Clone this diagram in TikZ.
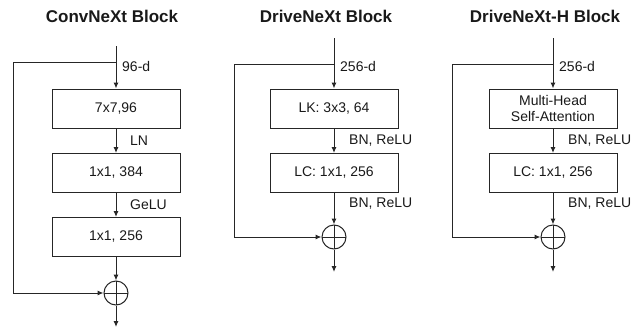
\documentclass[tikz,border=0pt]{standalone}
\usepackage{fontspec}
\setmainfont{Liberation Sans}
\usetikzlibrary{arrows.meta,positioning,calc}

\tikzset{
  blk/.style={draw=black!85, line width=1pt, minimum width=128pt, minimum height=39pt, inner sep=0pt, align=center, font=\fontsize{14}{16}\selectfont, text=black!90},
  lbl/.style={anchor=west, inner sep=0pt, font=\fontsize{14}{16}\selectfont, text=black!90},
  ttl/.style={font=\fontsize{17}{20}\selectfont\bfseries, text=black!90},
  sum/.style={circle, draw=black!85, line width=1pt, minimum size=24pt, inner sep=0pt,
    path picture={\draw[line width=1pt] (path picture bounding box.north) -- (path picture bounding box.south)
      (path picture bounding box.west) -- (path picture bounding box.east);}},
  wire/.style={draw=black!85, line width=1pt}
}

\begin{document}
\begin{tikzpicture}[x=1pt, y=-1pt, >={Latex[length=6pt,width=5pt]}]
\useasboundingbox (0,0) rectangle (642,332);

% ConvNeXt
\node[ttl, name=convt] at (112,16) {ConvNeXt Block};
\coordinate (convin) at (116,46);
\coordinate (convsplit) at (116,62);
\coordinate (convskip) at (13,293);
\coordinate (convout) at (116,327);
\node[blk, name=conv1] at (116,108.5) {7x7,96};
\node[blk, name=conv2] at (116,173) {1x1, 384};
\node[blk, name=conv3] at (116,237) {1x1, 256};
\node[sum, name=convsum] at (116,293) {};

\draw[wire,->] (convin) -- (conv1);
\draw[wire,->] (conv1) -- (conv2);
\draw[wire,->] (conv2) -- (conv3);
\draw[wire,->] (conv3) -- (convsum);
\draw[wire,->] (convsplit) -| (convskip) -- (convsum);
\draw[wire,->] (convsum) -- (convout);

\node[lbl] at (122,66) {96-d};
\node[lbl] at (130,141) {LN};
\node[lbl] at (130,205) {GeLU};

% DriveNeXt
\node[ttl, name=dnt] at (326,16) {DriveNeXt Block};
\coordinate (dnin) at (334,38);
\coordinate (dnsplit) at (334,64);
\coordinate (dnskip) at (234,237);
\coordinate (dnout) at (334,272);
\node[blk, name=dn1] at (334,108.5) {LK: 3x3, 64};
\node[blk, name=dn2] at (334,173) {LC: 1x1, 256};
\node[sum, name=dnsum] at (334,237) {};

\draw[wire,->] (dnin) -- (dn1);
\draw[wire,->] (dn1) -- (dn2);
\draw[wire,->] (dn2) -- (dnsum);
\draw[wire,->] (dnsplit) -| (dnskip) -- (dnsum);
\draw[wire,->] (dnsum) -- (dnout);

\node[lbl] at (340,66) {256-d};
\node[lbl] at (349,141) {BN, ReLU};
\node[lbl] at (349,204) {BN, ReLU};

% DriveNeXt-H
\node[ttl, name=dht] at (545,16) {DriveNeXt-H Block};
\coordinate (dhin) at (553,38);
\coordinate (dhsplit) at (553,64);
\coordinate (dhskip) at (452,237);
\coordinate (dhout) at (553,272);
\node[blk, name=dh1] at (553,108.5) {Multi-Head\\Self-Attention};
\node[blk, name=dh2] at (553,173) {LC: 1x1, 256};
\node[sum, name=dhsum] at (553,237) {};

\draw[wire,->] (dhin) -- (dh1);
\draw[wire,->] (dh1) -- (dh2);
\draw[wire,->] (dh2) -- (dhsum);
\draw[wire,->] (dhsplit) -| (dhskip) -- (dhsum);
\draw[wire,->] (dhsum) -- (dhout);

\node[lbl] at (559,66) {256-d};
\node[lbl] at (568,141) {BN, ReLU};
\node[lbl] at (568,204) {BN, ReLU};
\end{tikzpicture}
\end{document}
